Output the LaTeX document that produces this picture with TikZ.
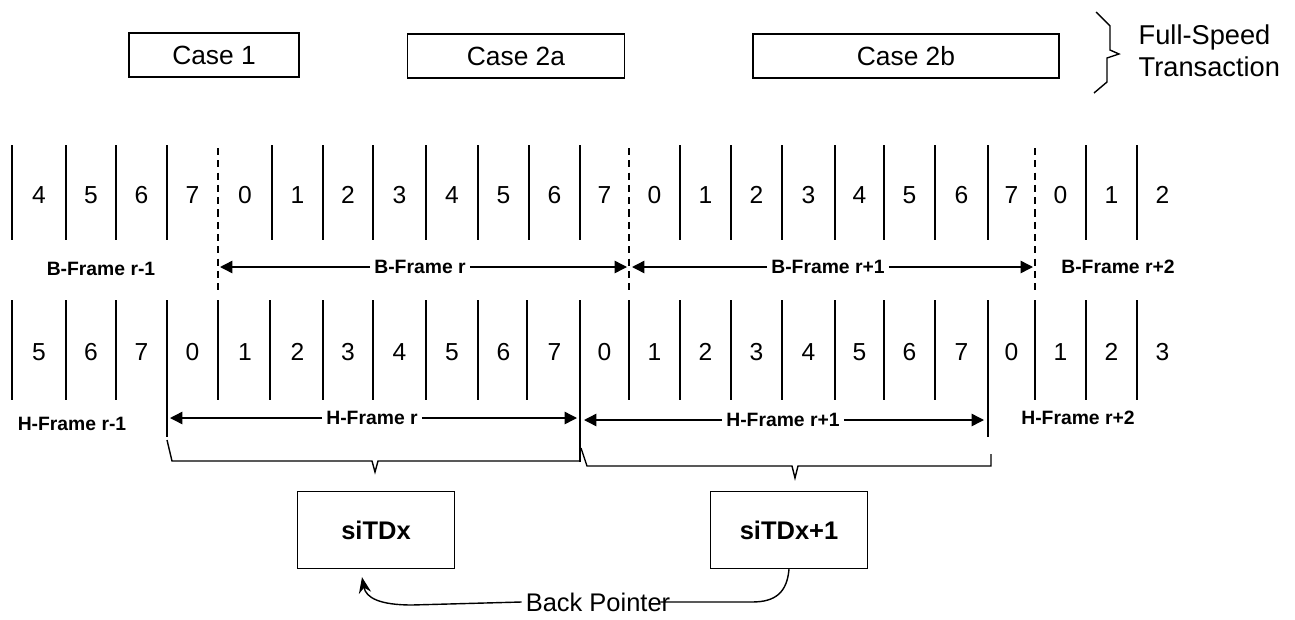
\documentclass[tikz,border=0pt]{standalone}
\usepackage{fontspec}
\setmainfont{Liberation Sans}
\usetikzlibrary{arrows.meta,calc}

\begin{document}
\begin{tikzpicture}[
  x=0.02cm, y=-0.02cm,
  line width=0.8pt,
  case/.style={draw,line width=1pt,minimum height=0.88cm,inner sep=0pt,
    font=\fontsize{15}{17}\selectfont},
  td/.style={draw,minimum width=3.13cm,minimum height=1.54cm,inner sep=0pt,
    font=\fontsize{14.5}{17}\selectfont\bfseries},
  dig/.style={font=\fontsize{14}{16}\selectfont,inner sep=0pt},
  frlbl/.style={font=\fontsize{11}{13}\selectfont\bfseries,inner sep=2pt},
  frarr/.style={-{Triangle[length=7pt,width=7pt]}},
  sep/.style={dash pattern=on 4pt off 3pt}]
\useasboundingbox (0,0) rectangle (1295,619);
\node[case,minimum width=3.4cm] (c1) at (214,55) {Case 1};
\node[case,minimum width=4.34cm] (c2a) at (516,56) {Case 2a};
\node[case,minimum width=6.12cm] (c2b) at (906,56) {Case 2b};
\draw (1096,12) -- (1110,26) -- (1110,50) -- (1119,54) -- (1107,58) -- (1107,82) -- (1094,93);
\node[anchor=west,align=left,inner sep=0pt,font=\fontsize{15.5}{18}\selectfont]
  (fst) at (1138,51) {Full-Speed\\Transaction};
\foreach \x in {12,66,116,167,272,323,373,426,478,529,580,680,731,782,835,884,935,988,1086,1137}
  \draw (\x,145) -- (\x,240);
\foreach \x in {218,629,1035}
  \draw[sep] (\x,148) -- (\x,290);
\foreach \x in {12,66,116,218,270,323,373,426,478,527,629,680,731,782,835,884,935,1035,1086,1137}
  \draw (\x,300) -- (\x,400);
\draw (167,300) -- (167,437);
\draw (580,300) -- (580,462);
\draw (988,300) -- (988,437);
\foreach \cx/\bd/\hd [count=\i] in {39/4/5,91/5/6,141.5/6/7,192.5/7/0,245/0/1,297.5/1/2,
    348/2/3,399.5/3/4,452/4/5,503.5/5/6,554.5/6/7,604.5/7/0,654.5/0/1,705.5/1/2,756.5/2/3,
    808.5/3/4,859.5/4/5,909.5/5/6,961.5/6/7,1011.5/7/0,1060.5/0/1,1111.5/1/2,1162.5/2/3} {
  \node[dig] (b\i) at (\cx,195) {\bd};
  \node[dig] (h\i) at (\cx,352) {\hd};
}
\node[frlbl] (bfm) at (101,269) {B-Frame r-1};
\node[frlbl] (bfr) at (420,267) {B-Frame r};
\node[frlbl] (bfp) at (828,267) {B-Frame r+1};
\node[frlbl] (bfq) at (1118,267) {B-Frame r+2};
\node[frlbl] (hfm) at (72,424) {H-Frame r-1};
\node[frlbl] (hfr) at (372,418) {H-Frame r};
\node[frlbl] (hfp) at (783,420) {H-Frame r+1};
\node[frlbl] (hfq) at (1078,418) {H-Frame r+2};
\coordinate (bra) at (220,267);
\coordinate (brb) at (627,267);
\coordinate (bpa) at (632,267);
\coordinate (bpb) at (1033,267);
\coordinate (hra) at (170,418);
\coordinate (hrb) at (577,418);
\coordinate (hpa) at (584,420);
\coordinate (hpb) at (984,420);
\draw[frarr] (bfr) -- (bra);
\draw[frarr] (bfr) -- (brb);
\draw[frarr] (bfp) -- (bpa);
\draw[frarr] (bfp) -- (bpb);
\draw[frarr] (hfr) -- (hra);
\draw[frarr] (hfr) -- (hrb);
\draw[frarr] (hfp) -- (hpa);
\draw[frarr] (hfp) -- (hpb);
\draw (167,440) -- (172,461) -- (372,461) -- (375,472) -- (378,461) -- (580,461);
\draw (581,448) -- (587,466) -- (792,466) -- (795,478) -- (798,466) -- (991,466) -- (991,454);
\node[td] (sitdx) at (376,530) {siTDx};
\node[td] (sitdxb) at (789,530) {siTDx+1};
\node[font=\fontsize{14.5}{17}\selectfont,inner sep=2pt] (bp) at (598,602) {Back Pointer};
\draw (sitdxb.south) .. controls (787,592) and (776,602) .. (752,602) -- ($(bp.east)+(-14,0)$);
\draw[-{Stealth[length=9pt,width=7pt]}] (bp.west) -- (412,605)
  .. controls (380,605) and (366,598) .. ($(sitdx.south)+(-14,8)$);
\end{tikzpicture}
\end{document}
